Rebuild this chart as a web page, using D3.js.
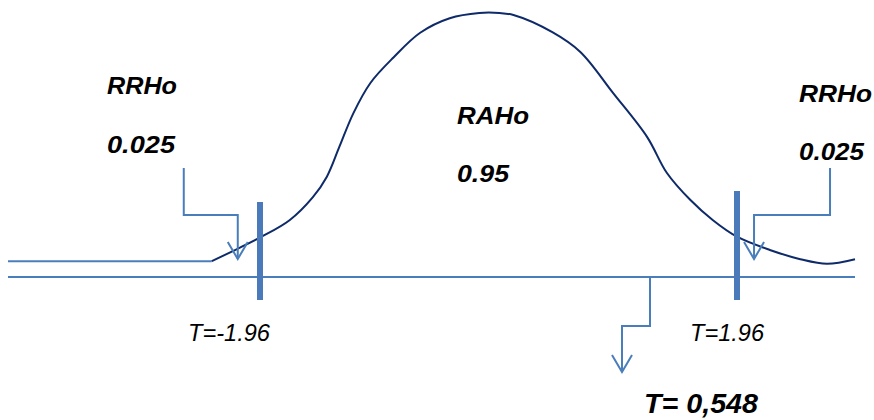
<!DOCTYPE html>
<html>
<head>
<meta charset="utf-8">
<script src="https://cdn.jsdelivr.net/npm/d3@7"></script>
<style>
  html, body { margin: 0; padding: 0; background: #ffffff; }
  svg { display: block; }
  text { font-family: "Liberation Sans", Arial, sans-serif; font-style: italic; fill: #000; }
</style>
</head>
<body>
<svg id="chart" width="874" height="420"></svg>
<script>
// Two-tailed t test: acceptance region (RAHo) and rejection tails (RRHo)
const axisT = [-4, 3.9];
const criticalT = [-1.96, 1.96];
const observedT = 0.548;

// Sketched density curve (t value, density)
const curveT = [-2.35, -2.15, -1.95, -1.77, -1.62, -1.53, -1.45, -1.36, -1.25, -1.10, -0.93, -0.74,
                -0.55, -0.42, -0.33, -0.08, 0.10, 0.31, 0.53, 0.82, 1.20, 1.57, 1.96, 2.50, 3.00, 3.44, 3.90];
const curveDensity = [0.024, 0.042, 0.061, 0.086, 0.121, 0.152, 0.197, 0.248, 0.294, 0.333, 0.370, 0.392,
                      0.400, 0.400, 0.397, 0.371, 0.341, 0.279, 0.212, 0.158, 0.117, 0.086, 0.061, 0.041, 0.027, 0.020, 0.027];

// Flat left tail leading into the curve
const tailT = [-4, -2.35];
const tailDensity = [0.024, 0.024];

// Points the tail callouts aim at (t value)
const tailArrowT = [-2.14, 2.24];

const regionNames = ["RRHo", "RAHo", "RRHo"];
const regionProbs = ["0.025", "0.95", "0.025"];
const criticalLabels = ["T=-1.96", "T=1.96"];
const observedLabel = "T= 0,548";

const svg = d3.select("#chart");
const lineBlue = "#4a7ebb";
const barBlue = "#4a7aba";
const curveNavy = "#0e2a68";

const x = d3.scaleLinear()
  .domain([axisT[0], criticalT[0], observedT, criticalT[1], axisT[1]])
  .range([8, 260, 650, 737, 855]);
const y = d3.scaleLinear().domain([0, 0.4]).range([277, 13]);

const pts = (xs, ys) => xs.map((t, i) => [x(t), y(ys[i])]);
const path = d3.line();

// baseline (t axis)
svg.append("line")
  .attr("x1", x(axisT[0])).attr("x2", x(axisT[1]))
  .attr("y1", y(0)).attr("y2", y(0))
  .attr("stroke", lineBlue).attr("stroke-width", 2);

// flat left tail
svg.append("path")
  .attr("d", path(pts(tailT, tailDensity)))
  .attr("fill", "none").attr("stroke", lineBlue).attr("stroke-width", 2);

// density curve
svg.append("path")
  .attr("d", d3.line().curve(d3.curveCatmullRom.alpha(0.5))(pts(curveT, curveDensity)))
  .attr("fill", "none").attr("stroke", curveNavy).attr("stroke-width", 2);

// critical value bars
const barTopOffset = [75, 86];
criticalT.forEach((c, i) => {
  svg.append("line")
    .attr("x1", x(c)).attr("x2", x(c))
    .attr("y1", y(0) - barTopOffset[i]).attr("y2", y(0) + 23)
    .attr("stroke", barBlue).attr("stroke-width", 6);
});

// callout arrow helper: polyline ending in an open V head
function callout(points) {
  const g = svg.append("g").attr("fill", "none").attr("stroke", lineBlue).attr("stroke-width", 2);
  g.append("path").attr("d", path(points));
  const [tx, ty] = points[points.length - 1];
  g.append("path").attr("d", path([[tx - 10, ty - 17], [tx, ty], [tx + 10, ty - 17]]));
}

// tail callouts from the RRHo labels
const tipY = y(0) - 18, elbowY = y(0) - 62, startY = y(0) - 109;
const leftTip = x(tailArrowT[0]);
callout([[leftTip - 54, startY], [leftTip - 54, elbowY], [leftTip, elbowY], [leftTip, tipY]]);
const rightTip = x(tailArrowT[1]);
callout([[rightTip + 76, startY], [rightTip + 76, elbowY], [rightTip, elbowY], [rightTip, tipY]]);

// observed statistic callout
const ox = x(observedT);
callout([[ox, y(0)], [ox, y(0) + 49], [ox - 28, y(0) + 49], [ox - 28, y(0) + 95]]);

// region labels
const regionLayout = [
  { x: 107, y1: 94, y2: 153, w1: 70, w2: 68 },
  { x: 457, y1: 124, y2: 182, w1: 72, w2: 52 },
  { x: 799, y1: 102, y2: 160, w1: 73, w2: 65 }
];
regionLayout.forEach((p, i) => {
  svg.append("text").attr("x", p.x).attr("y", p.y1)
    .attr("font-size", 24).attr("font-weight", "bold")
    .attr("textLength", p.w1).attr("lengthAdjust", "spacingAndGlyphs")
    .text(regionNames[i]);
  svg.append("text").attr("x", p.x).attr("y", p.y2)
    .attr("font-size", 24).attr("font-weight", "bold")
    .attr("textLength", p.w2).attr("lengthAdjust", "spacingAndGlyphs")
    .text(regionProbs[i]);
});

// critical value labels
const critLabelDx = [-72, -47];
const critLabelW = [82, 74];
criticalT.forEach((c, i) => {
  svg.append("text").attr("x", x(c) + critLabelDx[i]).attr("y", 341)
    .attr("font-size", 23)
    .attr("textLength", critLabelW[i]).attr("lengthAdjust", "spacingAndGlyphs")
    .text(criticalLabels[i]);
});

// observed value label
svg.append("text").attr("x", ox - 6).attr("y", 413)
  .attr("font-size", 27).attr("font-weight", "bold")
  .attr("textLength", 114).attr("lengthAdjust", "spacingAndGlyphs")
  .text(observedLabel);
</script>
</body>
</html>
